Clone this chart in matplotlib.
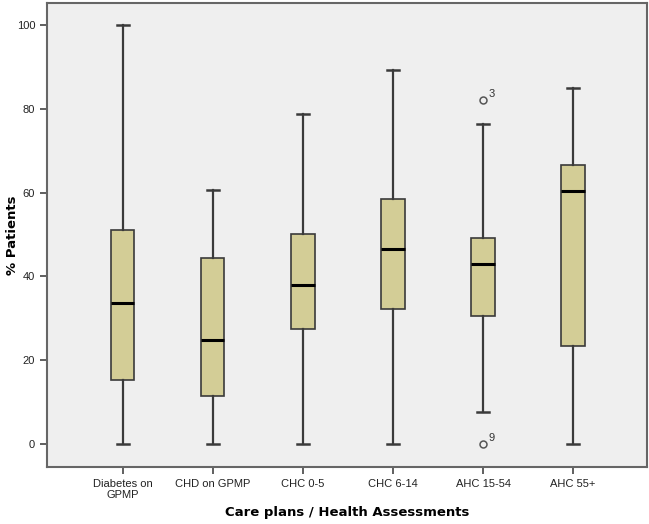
import matplotlib.pyplot as plt

categories = ["Diabetes on\nGPMP", "CHD on GPMP", "CHC 0-5", "CHC 6-14", "AHC 15-54", "AHC 55+"]
whislo = [0, 0, 0, 0, 7.5, 0]
q1 = [15.1, 11.3, 27.3, 32.1, 30.6, 23.3]
med = [33.7, 24.7, 37.8, 46.4, 42.9, 60.4]
q3 = [51.0, 44.4, 50.0, 58.4, 49.2, 66.6]
whishi = [100, 60.6, 78.7, 89.3, 76.3, 84.9]
outliers = [[], [], [], [], [82.1, 0.0], []]
outlier_ids = [[], [], [], [], ["3", "9"], []]

plt.rcParams['font.family'] = ['Liberation Sans', 'DejaVu Sans']

stats = []
for i in range(len(categories)):
    stats.append({"whislo": whislo[i], "q1": q1[i], "med": med[i], "q3": q3[i],
                  "whishi": whishi[i], "fliers": outliers[i], "label": categories[i]})

fig = plt.figure(figsize=(6.49, 5.24), dpi=100)
ax = fig.add_axes([47 / 649, 1 - 467 / 524, 600 / 649, 464 / 524])
ax.set_facecolor("#efefef")

positions = list(range(1, len(categories) + 1))
ax.bxp(stats, positions=positions, widths=0.26, patch_artist=True, capwidths=0.13,
       boxprops=dict(facecolor="#d3cd96", edgecolor="#3a3a3a", linewidth=1.2),
       medianprops=dict(color="black", linewidth=2.2),
       whiskerprops=dict(color="#3a3a3a", linewidth=1.6),
       capprops=dict(color="#3a3a3a", linewidth=1.8),
       flierprops=dict(marker="o", markersize=5, markerfacecolor="none",
                       markeredgecolor="#555555", markeredgewidth=1.1))

for i, pts in enumerate(outliers):
    for v, lab in zip(pts, outlier_ids[i]):
        ax.annotate(lab, (positions[i], v), xytext=(4, 2), textcoords="offset points",
                    fontsize=8, color="#333333")

ax.set_xlim(0.16, 6.82)
ax.set_ylim(-5.6, 105.3)
ax.set_yticks([0, 20, 40, 60, 80, 100])
ax.tick_params(axis="both", direction="out", length=5, width=1.2, color="#444444",
               labelsize=8, labelcolor="#222222")
for s in ax.spines.values():
    s.set_color("#666666")
    s.set_linewidth(1.5)

ax.set_ylabel("% Patients", fontsize=9.5, fontweight="bold", family="DejaVu Sans", va="center")
ax.set_xlabel("Care plans / Health Assessments", fontsize=9.5, fontweight="bold",
              family="DejaVu Sans", va="center")
ax.yaxis.set_label_coords(-0.058, 0.5)
ax.xaxis.set_label_coords(0.5, -0.097)

fig.savefig("out.png", dpi=100)
